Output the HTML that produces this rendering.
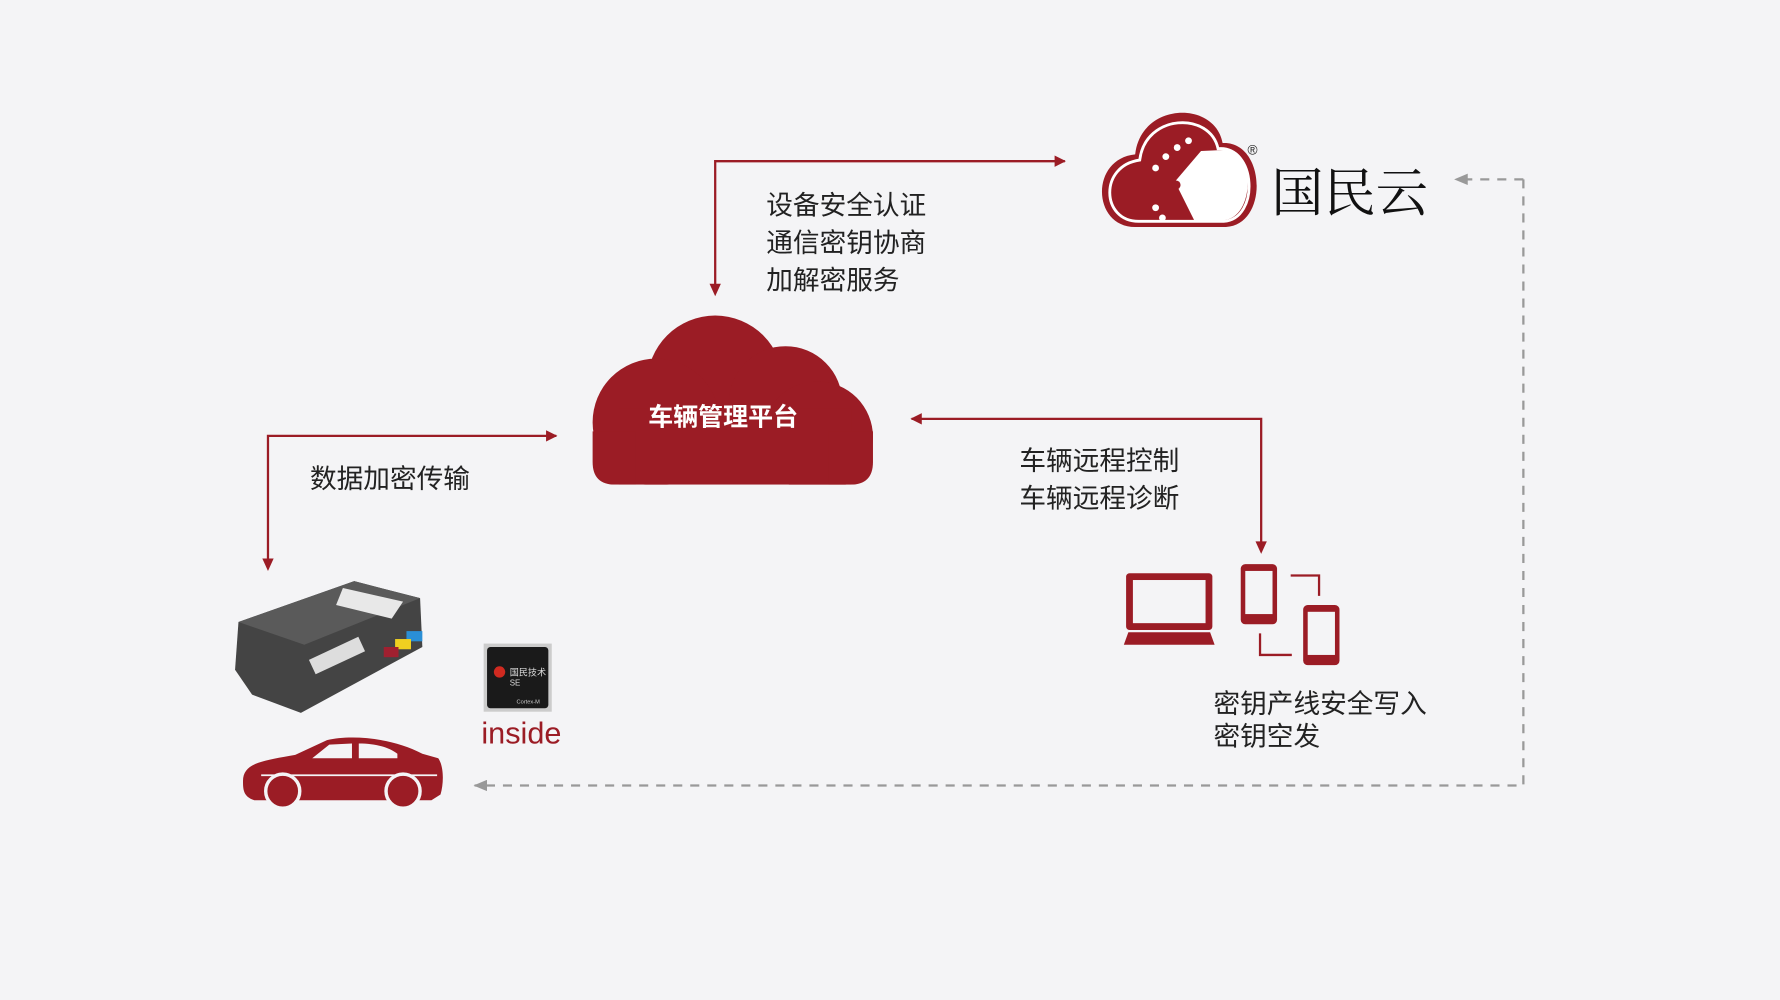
<!DOCTYPE html>
<html><head><meta charset="utf-8"><style>
html,body{margin:0;padding:0;background:#f4f4f6;}
svg{display:block}
text{font-family:"Liberation Sans","Noto Sans CJK SC",sans-serif;}
</style></head><body>
<svg width="1780" height="1000" viewBox="0 0 1568 881" xmlns="http://www.w3.org/2000/svg">
<rect width="1568" height="881" fill="#f4f4f6"/>
<defs>
<marker id="ar" markerWidth="10" markerHeight="10" refX="9" refY="5" orient="auto" markerUnits="userSpaceOnUse"><path d="M0,0 L10,5 L0,10 Z" fill="#9b1c25"/></marker>
<marker id="ag" markerWidth="12" markerHeight="10" refX="11" refY="5" orient="auto" markerUnits="userSpaceOnUse"><path d="M0,0 L12,5 L0,10 Z" fill="#999"/></marker>
<clipPath id="cc"><rect x="500" y="260" width="300" height="167"/></clipPath>
</defs>
<!-- top connector -->
<polyline points="630,252 630,142 938,142" fill="none" stroke="#9b1c25" stroke-width="2" marker-end="url(#ar)"/>
<path d="M625,250 L635,250 L630,261 Z" fill="#9b1c25"/>
<g font-size="23.5" fill="#222">
<text x="675" y="189">设备安全认证</text>
<text x="675" y="222">通信密钥协商</text>
<text x="675" y="255">加解密服务</text>
</g>
<!-- big cloud -->
<g fill="#9b1c25" clip-path="url(#cc)">
<circle cx="630" cy="338" r="60"/>
<circle cx="692" cy="355" r="50"/>
<circle cx="578" cy="372" r="56"/>
<circle cx="720" cy="385" r="49"/>
<rect x="545" y="360" width="205" height="67"/>
<path d="M522,380 L522,407 Q522,427 542,427 L560,427 L560,380 Z"/>
<path d="M769,380 L769,407 Q769,427 749,427 L730,427 L730,380 Z"/>
</g>
<text x="637" y="375" font-size="22" font-weight="bold" fill="#fff" text-anchor="middle">车辆管理平台</text>
<!-- left connector -->
<polyline points="236,494 236,384 490,384" fill="none" stroke="#9b1c25" stroke-width="2" marker-end="url(#ar)"/>
<path d="M231,492 L241,492 L236,503 Z" fill="#9b1c25"/>
<text x="273" y="430" font-size="23.5" fill="#222">数据加密传输</text>
<!-- right connector -->
<polyline points="1111,479 1111,369 803,369" fill="none" stroke="#9b1c25" stroke-width="2" marker-end="url(#ar)"/>
<path d="M1106,477 L1116,477 L1111,488 Z" fill="#9b1c25"/>
<g font-size="23.5" fill="#222">
<text x="898" y="414">车辆远程控制</text>
<text x="898" y="447">车辆远程诊断</text>
<text x="1069" y="628">密钥产线安全写入</text>
<text x="1069" y="657">密钥空发</text>
</g>
<!-- devices -->
<g fill="#9b1c25">
<rect x="992" y="505" width="76" height="50" rx="3"/>
<rect x="998" y="511" width="64" height="38" fill="#f4f4f6"/>
<path d="M990,568 L994,557 L1066,557 L1070,568 Z"/>
<rect x="1093" y="497" width="32" height="53" rx="4"/>
<rect x="1097" y="503" width="24" height="38" fill="#f4f4f6"/>
<rect x="1148" y="533" width="32" height="53" rx="4"/>
<rect x="1152" y="539" width="24" height="38" fill="#f4f4f6"/>
</g>
<path d="M1137,507 L1162,507 L1162,525 M1110,558 L1110,577 L1138,577" fill="none" stroke="#9b1c25" stroke-width="2"/>
<!-- dashed -->
<polyline points="1342,158 1342,692 418,692" fill="none" stroke="#999" stroke-width="2" stroke-dasharray="8,7" marker-end="url(#ag)"/>
<line x1="1342" y1="158" x2="1282" y2="158" stroke="#999" stroke-width="2" stroke-dasharray="8,7" marker-end="url(#ag)"/>
<!-- logo -->
<g>
<path d="M1000,200 C962,200 960,140 1000,136 C1005,90 1070,88 1077,126 C1115,124 1118,198 1080,200 Z" fill="#9b1c25"/>
<path d="M1003,195 C970,195 968,146 1004,141 C1009,100 1066,98 1073,131 C1107,128 1110,193 1078,195 Z" fill="none" stroke="#fff" stroke-width="2.5"/>
<path d="M1080,132 L1058,133 L1035,160 L1052,194 L1078,194 C1106,192 1106,130 1080,132 Z" fill="#fff"/>
<circle cx="1036" cy="163" r="4" fill="#9b1c25"/>
<g fill="#fff"><circle cx="1018" cy="148" r="3"/><circle cx="1027" cy="138" r="3"/><circle cx="1037" cy="130" r="3"/><circle cx="1047" cy="124" r="3"/><circle cx="1018" cy="183" r="3"/><circle cx="1024" cy="192" r="3"/></g>
<text x="1099" y="136" font-size="12" fill="#222">®</text>
<text x="1120" y="186" font-size="46" fill="#111" style="font-family:'Liberation Serif','Noto Serif CJK SC',serif">国民云</text>
</g>
<!-- device box -->
<path d="M210,548 L312,512 L370,527 L372,570 L265,628 L222,612 L207,590 Z" fill="#444"/>
<path d="M210,548 L312,512 L370,527 L268,568 Z" fill="#5a5a5a"/>
<path d="M302,518 L355,530 L345,545 L296,533 Z" fill="#e8e8e8"/>
<rect x="278" y="580" width="48" height="14" fill="#ddd" transform="rotate(-25 278 594)"/>
<rect x="358" y="556" width="14" height="9" fill="#2a8fd6"/><rect x="348" y="563" width="14" height="9" fill="#f0d020"/><rect x="338" y="570" width="13" height="9" fill="#a02030"/>
<!-- chip -->
<rect x="426" y="567" width="60" height="60" fill="#ccc"/>
<rect x="429" y="570" width="54" height="54" rx="3" fill="#1a1a1a"/>
<circle cx="440" cy="592" r="5" fill="#d02a20"/>
<text x="449" y="595" font-size="8" fill="#ddd">国民技术</text>
<text x="449" y="604" font-size="7" fill="#ddd">SE</text>
<text x="455" y="620" font-size="5" fill="#ccc">Cortex-M</text>
<text x="424" y="655" font-size="27" fill="#9b1c25">inside</text>
<!-- car -->
<path d="M214,688 C214,672 232,670 260,665 L288,652 C310,647 345,650 372,664 L386,668 C391,675 391,690 388,700 L380,705 L224,705 C214,702 214,695 214,688 Z" fill="#9b1c25"/>
<path d="M275,668 L290,656 L310,655 L310,668 Z M316,655 C330,655 342,658 350,664 L350,668 L316,668 Z" fill="#f4f4f6"/>
<line x1="230" y1="683" x2="385" y2="683" stroke="#f4f4f6" stroke-width="1.5"/>
<circle cx="249" cy="697" r="15" fill="#9b1c25" stroke="#f4f4f6" stroke-width="3"/>
<circle cx="355" cy="697" r="15" fill="#9b1c25" stroke="#f4f4f6" stroke-width="3"/>
</svg>
</body></html>
